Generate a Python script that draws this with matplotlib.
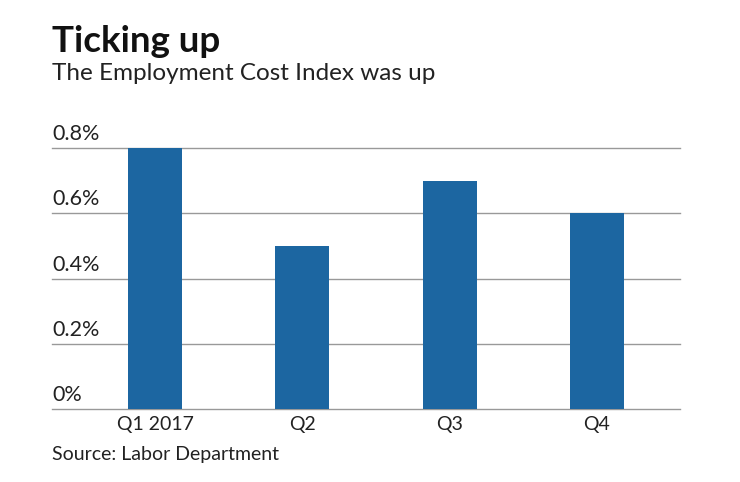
import matplotlib.pyplot as plt
import numpy as np

plt.rcParams['font.family'] = ['Lato', 'DejaVu Sans']

quarters = ['Q1 2017', 'Q2', 'Q3', 'Q4']
eci_change = [0.8, 0.5, 0.7, 0.6]
y_ticks = [0, 0.2, 0.4, 0.6, 0.8]
y_labels = ['0%', '0.2%', '0.4%', '0.6%', '0.8%']

fig = plt.figure(figsize=(7.4, 4.82), dpi=100)
ax = fig.add_axes([52 / 740, 1 - 409 / 482, 628 / 740, 261 / 482])

x = np.arange(len(quarters))
ax.bar(x, eci_change, width=0.367, color='#1c66a1', zorder=3)

for yt, lab in zip(y_ticks, y_labels):
    ax.axhline(yt, color='#999999', lw=1, zorder=1, clip_on=False)
    ax.text(0, yt + 0.012, lab, transform=ax.get_yaxis_transform(),
            ha='left', va='bottom', fontsize=15.5, color='#222222')

ax.set_xlim(-0.699, 3.564)
ax.set_ylim(0, 0.8)
ax.set_xticks(x)
ax.set_xticklabels(quarters, fontsize=14, color='#222222')
ax.tick_params(axis='x', length=0, pad=5)
ax.set_yticks([])
for s in ax.spines.values():
    s.set_visible(False)

fig.text(52 / 740, 1 - 25 / 482, 'Ticking up', fontsize=26.5, fontweight='bold',
         ha='left', va='top', color='#111111')
fig.text(52 / 740, 1 - 63 / 482, 'The Employment Cost Index was up', fontsize=17.5,
         ha='left', va='top', color='#222222')
fig.text(52 / 740, 1 - 446 / 482, 'Source: Labor Department', fontsize=14,
         ha='left', va='top', color='#222222')

fig.savefig('out.png', dpi=100)
